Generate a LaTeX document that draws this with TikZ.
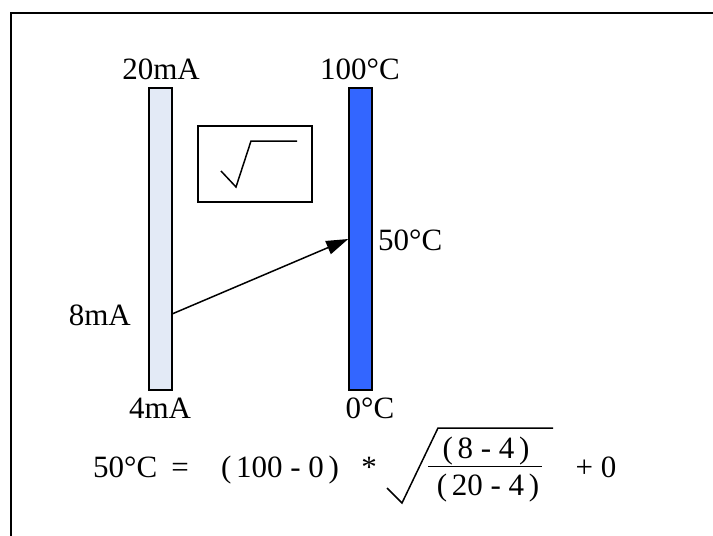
\documentclass[tikz,border=0pt]{standalone}
\usepackage{fontspec}
\setmainfont{Liberation Serif}
\usetikzlibrary{arrows.meta}
\definecolor{barpale}{RGB}{227,234,246}
\definecolor{barblue}{RGB}{51,102,255}
\newcommand{\degc}{\textdegree C}
\newcommand{\lp}{(\kern0.15em}
\newcommand{\rp}{\kern0.15em)}

\begin{document}
\begin{tikzpicture}[x=1pt, y=-1pt]
  \useasboundingbox (0,0) rectangle (713,536);

  % ---- frame (runs off the right and bottom edge) ------------
  \draw[line width=2pt] (11,13) rectangle (740,570);

  % ---- styles -------------------------------------------------
  \tikzstyle{lbl}=[inner sep=0pt, font=\fontsize{31}{36}\selectfont]
  \tikzstyle{bar}=[draw, line width=1.5pt, inner sep=0pt,
                   minimum width=23pt, minimum height=302pt]

  % ---- the two scales -----------------------------------------
  \node[bar, fill=barpale] (ma)   at (160.5,239) {};
  \node[bar, fill=barblue] (temp) at (360.5,239) {};

  % ---- square root box ----------------------------------------
  \node[draw, line width=1.5pt, minimum width=114pt,
        minimum height=76pt] (root) at (255,164) {};
  \draw[line width=1.5pt] (root.center) ++(-34,7) -- ++(15,16)
    -- ++(15,-46) -- ++(46,0);

  % ---- 8mA maps to 50 degrees ---------------------------------
  \coordinate (i8) at (172,314);
  \draw[line width=1.5pt, -{Triangle[length=22pt,width=14pt]}]
    (i8) -- (temp.west);

  % ---- scale labels -------------------------------------------
  \node[lbl, anchor=base]      (ma20)   at (161,79)  {20mA};
  \node[lbl, anchor=base]      (t100)   at (360,79)  {100\degc};
  \node[lbl, anchor=base west] (t50)    at (378,250) {50\degc};
  \node[lbl, anchor=base east] (ma8)    at (131,325) {8mA};
  \node[lbl, anchor=base]      (ma4)    at (160,418) {4mA};
  \node[lbl, anchor=base]      (t0)     at (370,418) {0\degc};

  % ---- formula ------------------------------------------------
  \node[lbl, anchor=base west] (res)    at (93,477)  {50\degc};
  \node[lbl, anchor=base]      (eq)     at (180,477) {=};
  \node[lbl, anchor=base]      (span)   at (280,477) {\lp100 - 0\rp};
  \node[lbl, anchor=base]      (times)  at (369,477) {*};
  \node[lbl, anchor=base]      (num)    at (486,458) {\lp8 - 4\rp};
  \node[lbl, anchor=base]      (den)    at (488,495) {\lp20 - 4\rp};
  \node[lbl, anchor=base]      (offs)   at (596,477) {+ 0};
  \draw[line width=1.5pt] (387,488) -- (402,503) -- (438,428) -- (553,428);
  \draw[line width=1pt] (428,466) -- (542,466);

\end{tikzpicture}
\end{document}
